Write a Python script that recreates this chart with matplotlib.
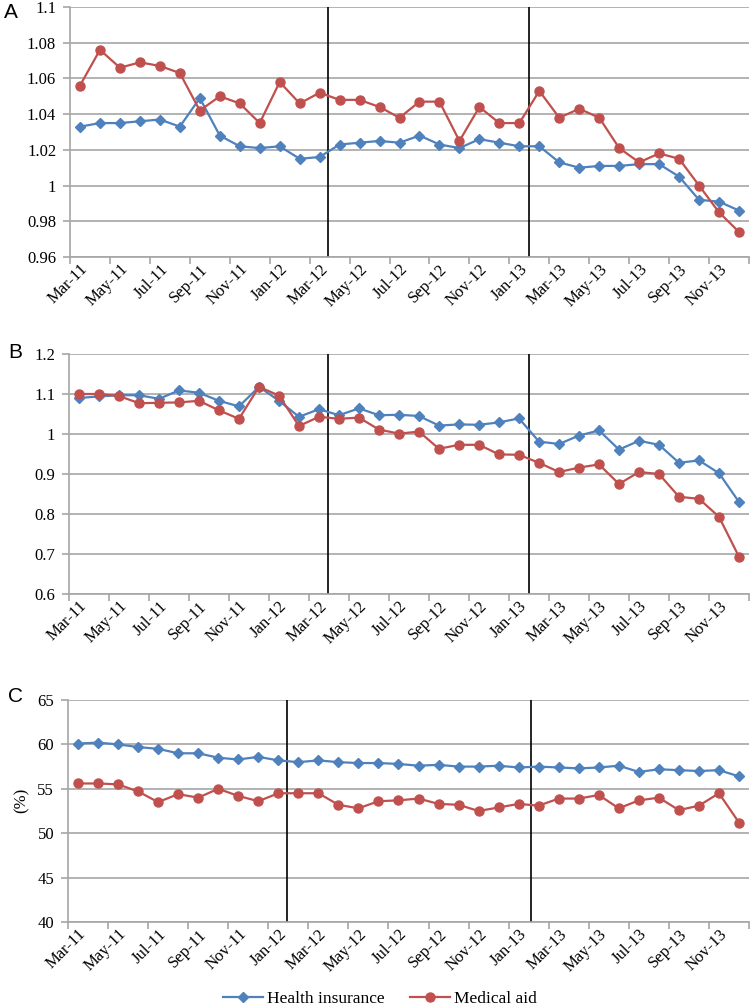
import numpy as np
import matplotlib.pyplot as plt

months = ['Mar-11', 'Apr-11', 'May-11', 'Jun-11', 'Jul-11', 'Aug-11', 'Sep-11', 'Oct-11', 'Nov-11', 'Dec-11',
          'Jan-12', 'Feb-12', 'Mar-12', 'Apr-12', 'May-12', 'Jun-12', 'Jul-12', 'Aug-12', 'Sep-12', 'Oct-12',
          'Nov-12', 'Dec-12', 'Jan-13', 'Feb-13', 'Mar-13', 'Apr-13', 'May-13', 'Jun-13', 'Jul-13', 'Aug-13',
          'Sep-13', 'Oct-13', 'Nov-13', 'Dec-13']

# panel A
a_health = [1.033, 1.035, 1.035, 1.036, 1.037, 1.033, 1.049, 1.028, 1.022, 1.021, 1.022, 1.015,
            1.016, 1.023, 1.024, 1.025, 1.024, 1.028, 1.023, 1.021, 1.026, 1.024, 1.022, 1.022,
            1.013, 1.010, 1.011, 1.011, 1.012, 1.012, 1.005, 0.992, 0.991, 0.986]
a_medical = [1.056, 1.076, 1.066, 1.069, 1.067, 1.063, 1.042, 1.050, 1.046, 1.035, 1.058, 1.046,
             1.052, 1.048, 1.048, 1.044, 1.038, 1.047, 1.047, 1.025, 1.044, 1.035, 1.035, 1.053,
             1.038, 1.043, 1.038, 1.021, 1.013, 1.018, 1.015, 1.000, 0.985, 0.974]

# panel B
b_health = [1.090, 1.094, 1.097, 1.097, 1.088, 1.109, 1.103, 1.083, 1.069, 1.118, 1.083, 1.043,
            1.062, 1.047, 1.064, 1.047, 1.048, 1.045, 1.021, 1.024, 1.023, 1.029, 1.039, 0.981,
            0.975, 0.996, 1.009, 0.961, 0.983, 0.973, 0.928, 0.934, 0.902, 0.830]
b_medical = [1.100, 1.100, 1.095, 1.077, 1.078, 1.079, 1.083, 1.059, 1.038, 1.118, 1.096, 1.020,
             1.043, 1.038, 1.041, 1.011, 1.001, 1.006, 0.963, 0.973, 0.973, 0.949, 0.948, 0.928,
             0.905, 0.916, 0.924, 0.875, 0.905, 0.900, 0.843, 0.838, 0.793, 0.693]

# panel C (%)
c_health = [60.1, 60.2, 60.0, 59.7, 59.5, 59.0, 59.0, 58.5, 58.3, 58.6, 58.2, 58.0,
            58.2, 58.0, 57.9, 57.9, 57.8, 57.6, 57.7, 57.5, 57.5, 57.6, 57.4, 57.5,
            57.4, 57.3, 57.4, 57.6, 56.9, 57.2, 57.1, 57.0, 57.1, 56.4]
c_medical = [55.6, 55.6, 55.5, 54.7, 53.5, 54.4, 54.0, 55.0, 54.2, 53.6, 54.5, 54.5,
             54.5, 53.2, 52.8, 53.6, 53.7, 53.9, 53.3, 53.2, 52.5, 52.9, 53.3, 53.1,
             53.9, 53.9, 54.3, 52.8, 53.7, 54.0, 52.6, 53.1, 54.5, 51.2]

panels = [
    ('A', a_health, a_medical, (0.96, 1.1), np.arange(0.96, 1.101, 0.02), ['0.96', '0.98', '1', '1.02', '1.04', '1.06', '1.08', '1.1'], (12.4, 22.5), ''),
    ('B', b_health, b_medical, (0.6, 1.2), np.arange(0.6, 1.201, 0.1), ['0.6', '0.7', '0.8', '0.9', '1', '1.1', '1.2'], (12.45, 22.5), ''),
    ('C', c_health, c_medical, (40, 65), np.arange(40, 66, 5), ['40', '45', '50', '55', '60', '65'], (10.45, 22.6), '(%)'),
]

blue = '#4F81BD'
red = '#C0504D'
grid_c = '#A6A6A6'

W, H = 750, 1006
fig = plt.figure(figsize=(7.5, 10.06), dpi=100)
# axes boxes in pixels: left, top, right, bottom
boxes = [(70, 7, 749, 257), (69, 354, 749, 594), (68, 700, 749, 922)]
letter_pos = [(4, 12), (8, 352), (8, 697)]

x = np.arange(len(months))
for (name, h, m, ylim, yt, ytl, vlines, ylab), (l, t, r, b), (lx, ly) in zip(panels, boxes, letter_pos):
    ax = fig.add_axes([l / W, 1 - b / H, (r - l) / W, (b - t) / H])
    ax.plot(x, h, color=blue, marker='D', markersize=5, lw=1.6, label='Health insurance', zorder=3)
    ax.plot(x, m, color=red, marker='o', markersize=6.5, lw=1.6, label='Medical aid', zorder=3)
    for v in vlines:
        ax.axvline(v, color='black', lw=1.2, zorder=2)
    ax.set_xlim(-0.5, len(months) - 0.5)
    ax.set_ylim(*ylim)
    ax.set_yticks(yt)
    ax.set_yticklabels(ytl, family='Liberation Serif', fontsize=12)
    ax.yaxis.grid(True, color=grid_c, lw=1.2, zorder=0)
    ax.set_axisbelow(True)
    # major ticks at category boundaries, labels on every other month
    ax.set_xticks(np.arange(-0.5, len(months), 2))
    ax.set_xticklabels([])
    ax.set_xticks(x[::2], [months[i] for i in x[::2]], minor=True)
    ax.tick_params(axis='x', which='major', length=5, color=grid_c, width=1.2)
    ax.tick_params(axis='x', which='minor', length=0, pad=3)
    ax.tick_params(axis='y', length=5, color=grid_c, width=1.2, pad=5)
    for lab in ax.get_xticklabels(minor=True):
        lab.set_rotation(45)
        lab.set_ha('right')
        lab.set_va('top')
        lab.set_rotation_mode('anchor')
        lab.set_family('Liberation Serif')
        lab.set_fontsize(12)
    for s in ['top', 'right']:
        ax.spines[s].set_visible(False)
    for s in ['left', 'bottom']:
        ax.spines[s].set_color(grid_c)
        ax.spines[s].set_linewidth(1.2)
    fig.text(lx / W, 1 - ly / H, name, family='Liberation Sans', fontsize=15, va='center', ha='left')
    if ylab:
        fig.text(22 / W, 1 - 800 / H, ylab, family='Liberation Serif', fontsize=12, rotation=90, va='center', ha='center')

handles, labels = ax.get_legend_handles_labels()
fig.legend(handles, labels, loc='center', bbox_to_anchor=(380 / W, 1 - 999 / H), ncol=2, frameon=False,
           prop={'family': 'Liberation Serif', 'size': 12.5}, handlelength=2.3, columnspacing=1.5, handletextpad=0.2)

fig.savefig('out.png', dpi=100)
